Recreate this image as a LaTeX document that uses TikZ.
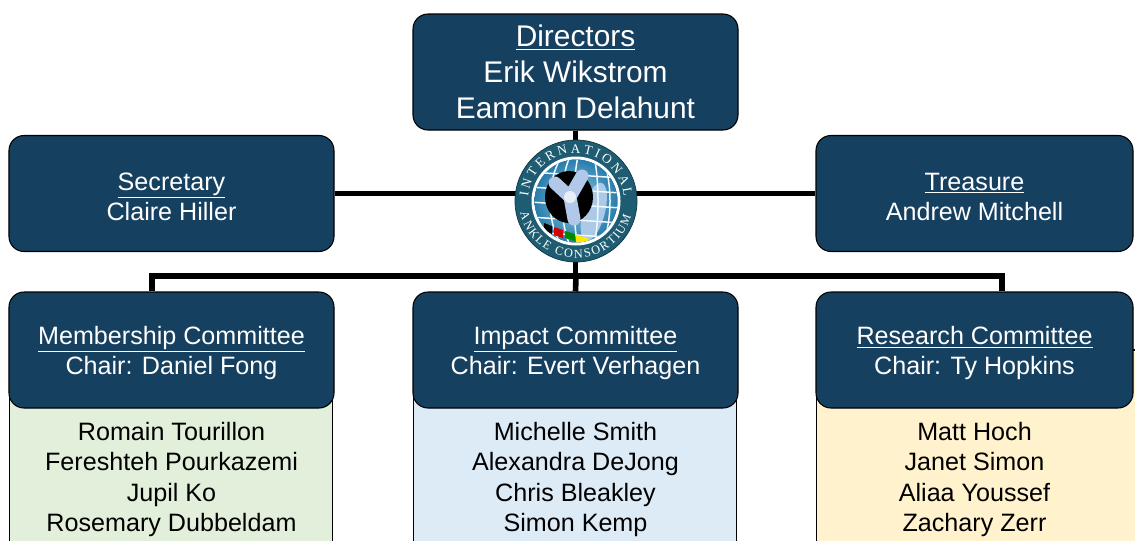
\documentclass[tikz,border=0pt]{standalone}
\usepackage{fontspec}
\setmainfont{Liberation Sans}
\newfontfamily\logofont{Liberation Serif}
\usepackage{xcolor}
\definecolor{Col1}{RGB}{22,64,96}
\definecolor{Col2}{RGB}{226,239,218}
\definecolor{Col3}{RGB}{221,235,247}
\definecolor{Col4}{RGB}{255,242,204}
\definecolor{Col5}{RGB}{30,92,114}
\definecolor{Col6}{RGB}{150,205,232}
\definecolor{Col7}{RGB}{40,125,172}
\definecolor{Col8}{RGB}{178,200,232}
\usepackage{tikz}
\usetikzlibrary{positioning}
\usetikzlibrary{backgrounds}
\usetikzlibrary{decorations.text}
\newcommand{\Top}{\rule{0pt}{13.5pt}}
\tikzstyle{Head}=[rectangle,rounded corners=3mm,draw=black,line width=0.6pt,
fill=Col1,text=white,minimum width=65mm,minimum height=23.2mm,inner sep=2pt,
align=center,font=\fontsize{14.3}{17.2}\selectfont]
\tikzstyle{Big}=[font=\fontsize{17}{20.5}\selectfont]
\tikzstyle{Edge}=[draw=black,line width=3.2pt]
\tikzstyle{Body}=[draw=black,line width=0.6pt]
\tikzstyle{Names}=[align=center,inner sep=0pt,font=\fontsize{14.3}{17.4}\selectfont]
\tikzstyle{Ring}=[decorate,decoration={text along path,text align=fit to path}]
\tikzstyle{Stripe}=[line width=0pt]

\begin{document}
\begin{tikzpicture}[x=0.2mm,y=0.2mm]
            \useasboundingbox(0,0)rectangle(1135,-540);
            \clip(0,0)rectangle(1135,-540);
            \node[Head,Big](dir)at(575.5,-72)
                {\underline{Directors}\\Erik Wikstrom\\Eamonn Delahunt};
            \node[Head](sec)at(171.5,-193.5)
                {\Top\underline{Secretary}\\Claire Hiller};
            \node[Head,minimum width=63.4mm](tre)at(974.5,-193.5)
                {\Top\underline{Treasure}\\Andrew Mitchell};
            \node[Head](mem)at(171.5,-350)
                {\Top\underline{Membership Committee}\\Chair: Daniel Fong};
            \node[Head](imp)at(575.5,-350)
                {\Top\underline{Impact Committee}\\Chair: Evert Verhagen};
            \node[Head,minimum width=63.4mm](res)at(974.5,-350)
                {\Top\underline{Research Committee}\\Chair: Ty Hopkins};
            \node[Names,below=2.6mm of mem](memlist)
                {Romain Tourillon\\Fereshteh Pourkazemi\\Jupil Ko\\Rosemary Dubbeldam};
            \node[Names,below=2.6mm of imp](implist)
                {Michelle Smith\\Alexandra DeJong\\Chris Bleakley\\Simon Kemp};
            \node[Names,below=2.6mm of res](reslist)
                {Matt Hoch\\Janet Simon\\Aliaa Youssef\\Zachary Zerr};
            \coordinate(bus)at(576,-276);
            \coordinate(busL)at(152,-276);
            \coordinate(busR)at(1002,-276);
            \begin{scope}[on background layer]
            \draw[Body,fill=Col2]([xshift=0.2mm]mem.west)rectangle++(323,-250);
            \draw[Body,fill=Col3]([xshift=0.2mm]imp.west)rectangle++(323,-250);
            \draw[Body,fill=Col4]([xshift=0.2mm]res.west)rectangle++(330,-250);
            \draw[Edge](sec.east)--(tre.west);
            \draw[Edge](dir.south)--(dir.south|-bus);
            \draw[Edge](busL|-mem.north)--(busL)--(busR)--(busR|-res.north);
            \draw[Edge](bus)--(imp.north);
            \end{scope}
            % logo
            \node[circle,minimum size=24.4mm,inner sep=0pt,fill=Col5,
                draw=Col5!60!black](logo)at(576,-201){};
            \draw[white,line width=0.6mm](logo.center)circle(43);
            \shade[inner color=Col6,outer color=Col7](logo.center)circle(41.5);
            \begin{scope}
            \clip(logo.center)circle(41.5);
            \fill[Col8!80!Col6,rotate around={-15:([shift={(20,-6)}]logo.center)}]
                ([shift={(20,-6)}]logo.center)ellipse(11 and 30);
            \foreach \r in {12,24,36}
                \draw[white!85!Col6,line width=0.3mm]([xshift=2mm]logo.center)ellipse({\r} and 60);
            \foreach \h in {-30,-15,0,15,30}
                \draw[white!85!Col6,line width=0.3mm]([yshift=\h*0.2mm]logo.west)--++(122,-8);
            \fill[black,Stripe]([shift={(-32,-22)}]logo.center)--++(8,-3)--++(0,-8)--++(-8,3)--cycle;
            \fill[red!85!black,Stripe]([shift={(-22,-26)}]logo.center)--++(9,-3)--++(0,-8)--++(-9,3)--cycle;
            \fill[green!55!black,Stripe]([shift={(-11,-30)}]logo.center)--++(10,-3)--++(0,-7)--++(-10,3)--cycle;
            \fill[yellow!90!orange,Stripe]([shift={(0,-34)}]logo.center)--++(12,-3)--++(0,-7)--++(-12,3)--cycle;
            \end{scope}
            \fill[black]([shift={(-7,4)}]logo.center)ellipse(24 and 26);
            \draw[Col8,line width=2.6mm,line cap=round]([shift={(-21,18)}]logo.center)
                --([shift={(-6,4)}]logo.center)--([shift={(6,25)}]logo.center);
            \draw[Col8,line width=2.6mm,line cap=round]([shift={(-6,4)}]logo.center)
                --([shift={(-2,-18)}]logo.center);
            \fill[white!70!Col8]([shift={(-6,4)}]logo.center)circle(6);
            \path[Ring,decoration={text={|\logofont\fontsize{7.5}{8}\selectfont\color{white}|INTERNATIONAL}}]
                ([shift={(175:48)}]logo.center)arc(175:5:48);
            \path[Ring,decoration={text={|\logofont\fontsize{7}{8}\selectfont\color{white}|ANKLE CONSORTIUM}}]
                ([shift={(192:57)}]logo.center)arc(192:345:57);
        \end{tikzpicture}
\end{document}
